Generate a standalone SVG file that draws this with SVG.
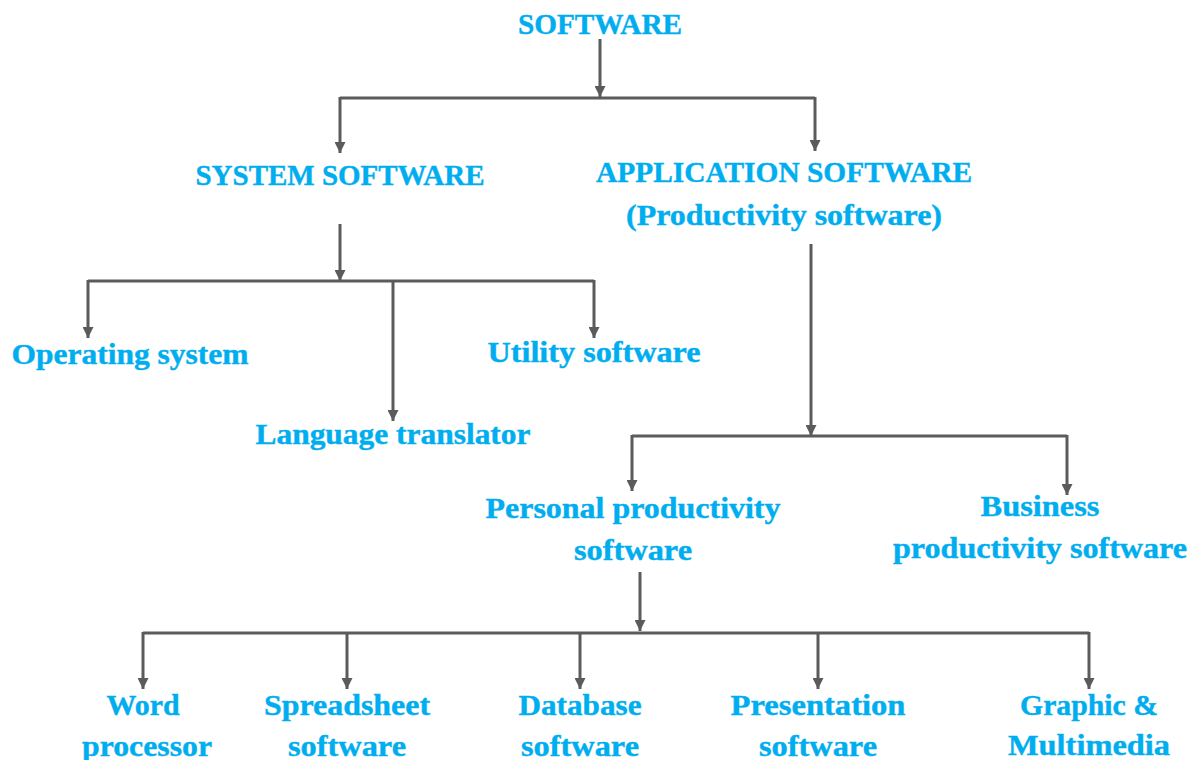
<svg xmlns="http://www.w3.org/2000/svg" width="1194" height="760" viewBox="0 0 1194 760">
<defs>
<marker id="ah" markerUnits="userSpaceOnUse" markerWidth="11" markerHeight="11" refX="11" refY="5.5" orient="auto">
<path d="M0,0 L11,5.5 L0,11 z" fill="#5b5b5b"/>
</marker>
<style>
.t{font-family:"Liberation Serif","DejaVu Serif",serif;font-weight:bold;font-size:30px;fill:#00aeef;stroke:#00aeef;stroke-width:0.4;text-anchor:middle}
.k{font-size:29px}
.c{stroke:#5b5b5b;stroke-width:3;fill:none}
.a{marker-end:url(#ah)}
</style>
</defs>
<rect width="1194" height="760" fill="#fff"/>
<g id="connectors">
<line class="c a" x1="600" y1="39" x2="600" y2="97"/>
<path class="c" d="M340,98 H815"/>
<line class="c a" x1="340" y1="97" x2="340" y2="153"/>
<line class="c a" x1="815" y1="97" x2="815" y2="151"/>
<line class="c a" x1="340" y1="224" x2="340" y2="281"/>
<path class="c" d="M88,281 H594"/>
<line class="c a" x1="88" y1="280" x2="88" y2="338"/>
<line class="c a" x1="594" y1="280" x2="594" y2="338"/>
<line class="c a" x1="393" y1="280" x2="393" y2="421"/>
<line class="c a" x1="811" y1="244" x2="811" y2="436"/>
<path class="c" d="M632,436 H1067"/>
<line class="c a" x1="632" y1="435" x2="632" y2="491"/>
<line class="c a" x1="1067" y1="435" x2="1067" y2="495"/>
<line class="c a" x1="640" y1="572" x2="640" y2="631"/>
<path class="c" d="M143,633 H1089"/>
<line class="c a" x1="143" y1="632" x2="143" y2="689"/>
<line class="c a" x1="347" y1="632" x2="347" y2="689"/>
<line class="c a" x1="580" y1="632" x2="580" y2="689"/>
<line class="c a" x1="818" y1="632" x2="818" y2="689"/>
<line class="c a" x1="1089" y1="632" x2="1089" y2="689"/>
</g>
<g id="software"><text class="t k" x="600" y="34" textLength="164" lengthAdjust="spacingAndGlyphs">SOFTWARE</text></g>
<g id="system"><text class="t k" x="340" y="185" textLength="289" lengthAdjust="spacingAndGlyphs">SYSTEM SOFTWARE</text></g>
<g id="application"><text class="t k" x="784" y="182" textLength="376" lengthAdjust="spacingAndGlyphs">APPLICATION SOFTWARE</text>
<text class="t" x="784" y="225" textLength="316" lengthAdjust="spacingAndGlyphs">(Productivity software)</text></g>
<g id="os"><text class="t" x="130" y="364" textLength="237" lengthAdjust="spacingAndGlyphs">Operating system</text></g>
<g id="utility"><text class="t" x="594" y="362" textLength="213" lengthAdjust="spacingAndGlyphs">Utility software</text></g>
<g id="translator"><text class="t" x="393" y="444" textLength="275" lengthAdjust="spacingAndGlyphs">Language translator</text></g>
<g id="personal"><text class="t" x="633" y="518" textLength="295" lengthAdjust="spacingAndGlyphs">Personal productivity</text>
<text class="t" x="633" y="560" textLength="118" lengthAdjust="spacingAndGlyphs">software</text></g>
<g id="business"><text class="t" x="1040" y="516" textLength="119" lengthAdjust="spacingAndGlyphs">Business</text>
<text class="t" x="1040" y="558" textLength="294" lengthAdjust="spacingAndGlyphs">productivity software</text></g>
<g id="word"><text class="t" x="143" y="715" textLength="73" lengthAdjust="spacingAndGlyphs">Word</text>
<text class="t" x="147" y="756" textLength="130" lengthAdjust="spacingAndGlyphs">processor</text></g>
<g id="spreadsheet"><text class="t" x="347" y="715" textLength="166" lengthAdjust="spacingAndGlyphs">Spreadsheet</text>
<text class="t" x="347" y="756" textLength="118" lengthAdjust="spacingAndGlyphs">software</text></g>
<g id="database"><text class="t" x="580" y="715" textLength="123" lengthAdjust="spacingAndGlyphs">Database</text>
<text class="t" x="580" y="756" textLength="118" lengthAdjust="spacingAndGlyphs">software</text></g>
<g id="presentation"><text class="t" x="818" y="715" textLength="175" lengthAdjust="spacingAndGlyphs">Presentation</text>
<text class="t" x="818" y="756" textLength="118" lengthAdjust="spacingAndGlyphs">software</text></g>
<g id="graphic"><text class="t" x="1089" y="715" textLength="138" lengthAdjust="spacingAndGlyphs">Graphic &amp;</text>
<text class="t" x="1089" y="755" textLength="162" lengthAdjust="spacingAndGlyphs">Multimedia</text></g>
</svg>
